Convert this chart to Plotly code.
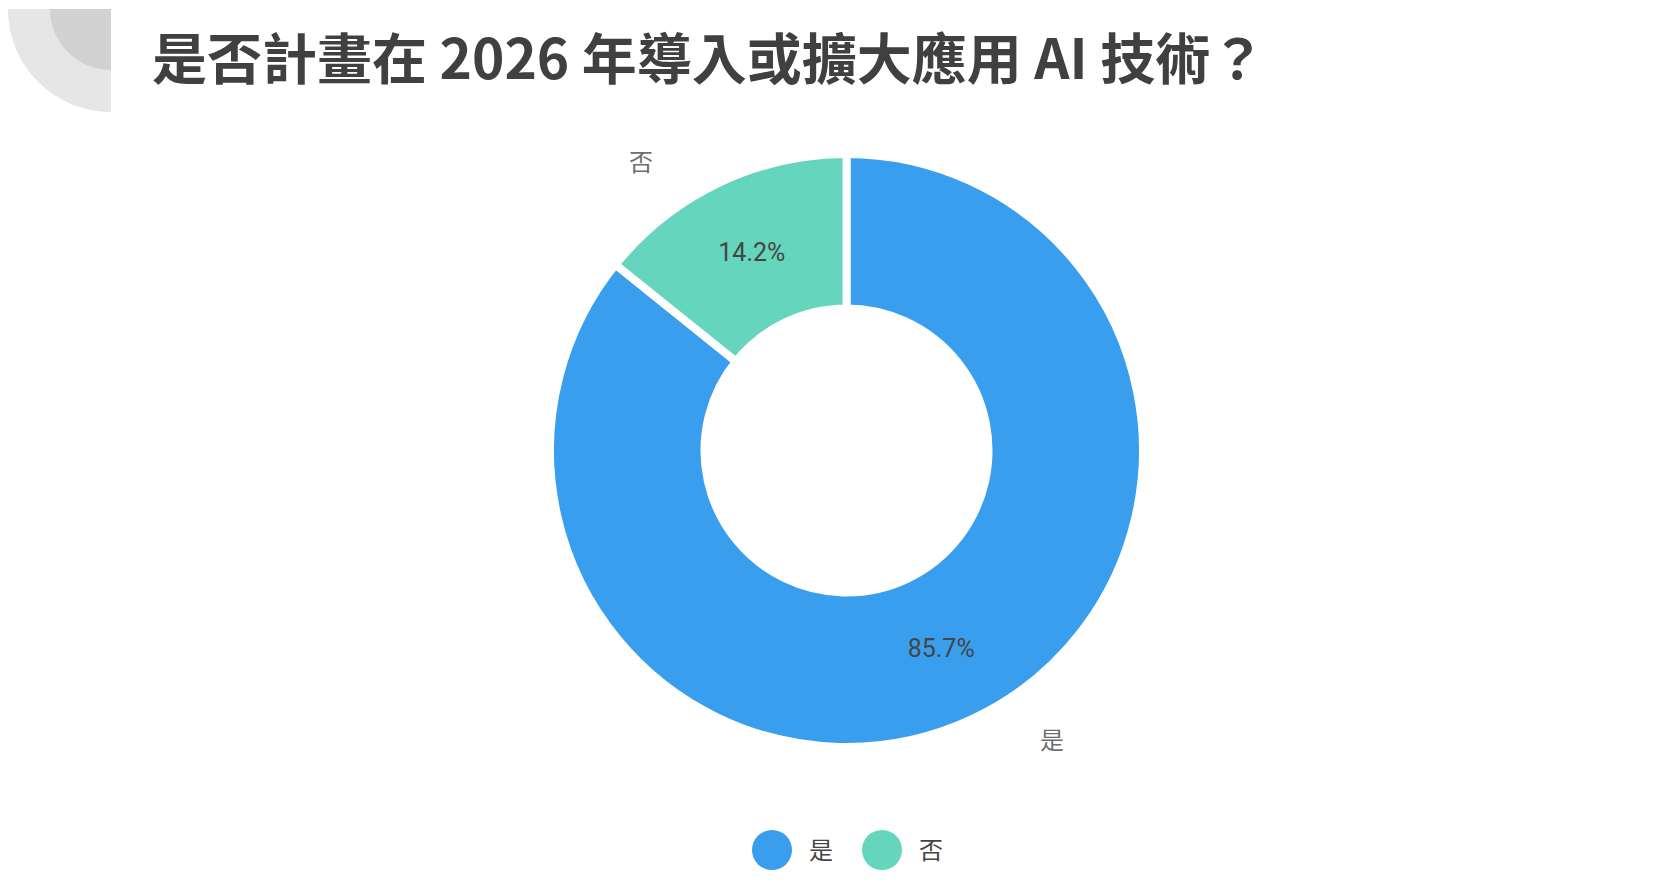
import plotly.graph_objects as go

# ---- data ----
categories = ["是", "否"]
values = [85.7, 14.2]
pct_text = ["85.7%", "14.2%"]
colors = ["#399EEE", "#65D5BD"]
title_text = "是否計畫在 2026 年導入或擴大應用 AI 技術？"

# page body has an 8px margin; lay out in window pixels and shift
OFF = 8
W, H = 1670 - 2 * OFF, 894 - 2 * OFF


def px(x):
    return (x - OFF) / W


def py(y):
    return 1 - (y - OFF) / H


# pie geometry (window pixels)
cx, cy, R = 846.5, 450.5, 296.5
hole = 142 / R

fig = go.Figure()
fig.add_trace(go.Pie(
    labels=categories,
    values=values,
    text=pct_text,
    textinfo="text",
    texttemplate="%{text}",
    textposition="inside",
    insidetextorientation="horizontal",
    textfont=dict(family="Roboto", size=25, color="#454545"),
    marker=dict(colors=colors, line=dict(color="white", width=8)),
    hole=hole,
    sort=False,
    direction="clockwise",
    rotation=0,
    showlegend=False,
    hoverinfo="label+percent",
    domain=dict(x=[px(cx - R), px(cx + R)], y=[py(cy + R), py(cy - R)]),
))

shapes = []
k = 0.5523


def quarter(r, color):
    x0, y0 = 111, 9
    p = (f"M {px(x0)},{py(y0)} L {px(x0 - r)},{py(y0)} "
         f"C {px(x0 - r)},{py(y0 + k * r)} {px(x0 - k * r)},{py(y0 + r)} {px(x0)},{py(y0 + r)} Z")
    return dict(type="path", xref="paper", yref="paper", path=p,
                fillcolor=color, line=dict(width=0), layer="below")


shapes.append(quarter(103, "#e6e6e6"))
shapes.append(quarter(61, "#d2d2d2"))

annotations = [dict(
    text=title_text, x=px(150), y=py(55), xref="paper", yref="paper",
    xanchor="left", yanchor="middle", showarrow=False,
    font=dict(family="Noto Sans CJK TC", size=55, color="#404040", weight="bold"),
)]

# outside category labels
label_pos = {"否": (641, 160), "是": (1052, 738)}
for c in categories:
    lx, ly = label_pos[c]
    annotations.append(dict(
        text=c, x=px(lx), y=py(ly), xref="paper", yref="paper",
        xanchor="center", yanchor="middle", showarrow=False,
        font=dict(family="Noto Sans CJK TC", size=24, color="#6e6e6e"),
    ))

# custom legend with big circles
leg_x0, leg_step, leg_y, leg_r = 772, 110, 850, 20
for i, (c, col) in enumerate(zip(categories, colors)):
    lx = leg_x0 + i * leg_step
    shapes.append(dict(type="circle", xref="paper", yref="paper",
                       x0=px(lx - leg_r), x1=px(lx + leg_r),
                       y0=py(leg_y + leg_r), y1=py(leg_y - leg_r),
                       fillcolor=col, line=dict(width=0)))
    annotations.append(dict(
        text=c, x=px(lx + 35), y=py(leg_y - 2), xref="paper", yref="paper",
        xanchor="left", yanchor="middle", showarrow=False,
        font=dict(family="Noto Sans CJK TC", size=24, color="#444444"),
    ))

fig.update_layout(
    width=W, height=H,
    margin=dict(l=0, r=0, t=0, b=0),
    paper_bgcolor="white", plot_bgcolor="white",
    shapes=shapes, annotations=annotations,
    showlegend=False,
)

fig.write_html("out.html")
